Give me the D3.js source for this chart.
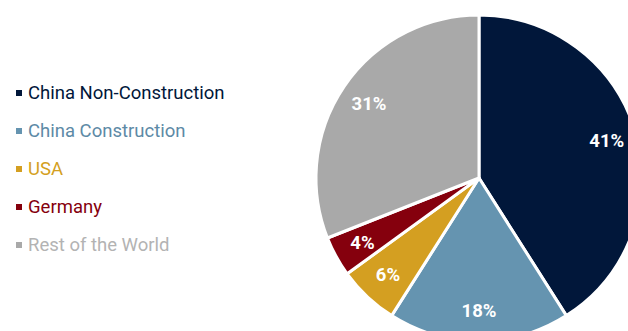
<!DOCTYPE html>
<html>
<head>
<meta charset="utf-8">
<script src="https://cdn.jsdelivr.net/npm/d3@7"></script>
<style>
  body { margin: 0; background: #fff; }
  svg { display: block; font-family: Roboto, sans-serif; }
</style>
</head>
<body>
<div id="chart"></div>
<script>
// chart data
const categories = ["China Non-Construction", "China Construction", "USA", "Germany", "Rest of the World"];
const shares = [41, 18, 6, 4, 31];
const colors = ["#01173a", "#6594b0", "#d49f21", "#85000d", "#a9a9a9"];

const width = 628, height = 331;
const cx = 479, cy = 178, radius = 163;

const svg = d3.select("#chart")
  .append("svg")
    .attr("width", width)
    .attr("height", height);

const color = d3.scaleOrdinal().domain(categories).range(colors);

const pie = d3.pie().sort(null).value(d => d.value);
const data = categories.map((c, i) => ({ name: c, value: shares[i] }));

const arc = d3.arc().innerRadius(0).outerRadius(radius);
const labelArc = d3.arc().innerRadius(133).outerRadius(133);

const g = svg.append("g")
  .attr("transform", "translate(" + cx + "," + cy + ")");

// slices
g.selectAll("path")
  .data(pie(data))
  .enter()
  .append("path")
    .attr("d", arc)
    .attr("fill", d => color(d.data.name))
    .attr("stroke", "#fff")
    .attr("stroke-width", 3)
    .attr("stroke-linejoin", "round");

// percent labels
g.selectAll("text")
  .data(pie(data))
  .enter()
  .append("text")
    .attr("transform", d => "translate(" + labelArc.centroid(d) + ")")
    .attr("text-anchor", "middle")
    .attr("dy", "0.35em")
    .attr("fill", "#fff")
    .style("font-size", "18.5px")
    .style("font-weight", "bold")
    .text(d => d.data.value + "%");

// legend
const legend = svg.append("g").attr("transform", "translate(16,93)");
const row = legend.selectAll("g")
  .data(categories)
  .enter()
  .append("g")
    .attr("transform", (d, i) => "translate(0," + (i * 38) + ")");

row.append("rect")
  .attr("x", 0)
  .attr("y", -3)
  .attr("width", 6)
  .attr("height", 6)
  .attr("fill", d => color(d));

row.append("text")
  .attr("x", 12)
  .attr("dy", "0.35em")
  .attr("fill", (d, i) => i === 4 ? "#b3b3b3" : i === 1 ? "#5d8aa6" : color(d))
  .style("font-size", "18.5px")
  .text(d => d);
</script>
</body>
</html>
